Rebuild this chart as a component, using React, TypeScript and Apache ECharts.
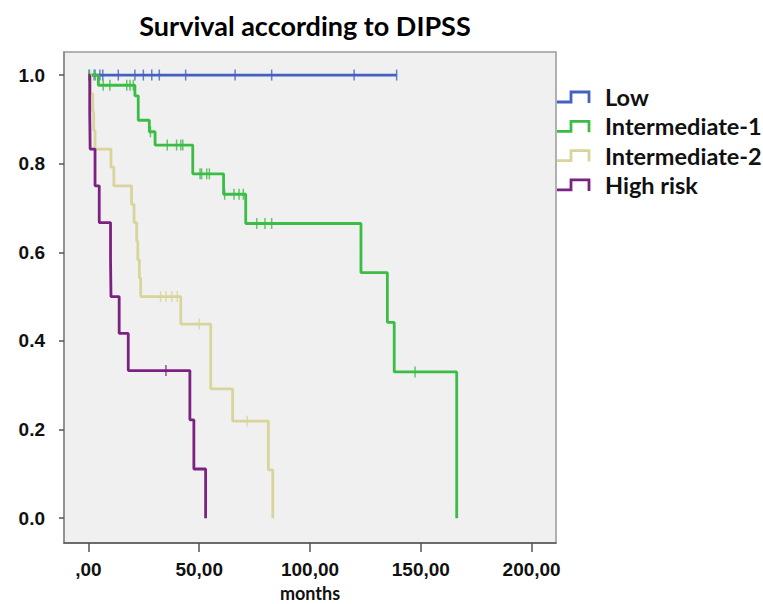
import React, { useEffect, useRef } from "react";
import * as echarts from "echarts";

// ---- Data (months, survival probability) ----
const groupNames = ["Low", "Intermediate-1", "Intermediate-2", "High risk"];
const groupColors = ["#4260c0", "#3bbd45", "#d9d49a", "#7c2182"];

const lowTimes = [0, 139.1];
const lowSurv = [1, 1];
const lowCensor = [0.3, 3.0, 5.2, 6.5, 13.5, 21.0, 24.8, 28.6, 32.0, 43.9, 66.2, 82.7, 119.9, 139.1];

const int1Times = [0, 4.5, 21.0, 22.5, 27.5, 30.1, 47.1, 61.0, 71.0, 123.0, 134.9, 138.0, 166.2];
const int1Surv = [1, 0.977, 0.953, 0.898, 0.872, 0.842, 0.777, 0.731, 0.665, 0.554, 0.442, 0.33, 0];
const int1Censor = [0.5, 2.5, 6.7, 9.7, 17.3, 18.8, 20.3, 28.0, 35.6, 39.8, 41.7, 42.6, 50.4, 51.1, 53.4, 54.6, 61.5, 65.7, 68.0, 69.9, 76.0, 79.7, 82.7, 147.4];

const int2Times = [0, 1.0, 2.0, 2.4, 3.0, 10.2, 11.5, 19.5, 20.6, 21.8, 22.3, 23.0, 23.6, 41.7, 55.2, 65.1, 81.2, 83.2];
const int2Surv = [1, 0.958, 0.917, 0.875, 0.833, 0.792, 0.75, 0.708, 0.667, 0.625, 0.583, 0.542, 0.5, 0.438, 0.292, 0.219, 0.109, 0];
const int2Censor = [32.6, 35.0, 37.6, 40.1, 50.0, 71.7];

const highTimes = [0, 0.6, 0.8, 3.0, 4.9, 10.0, 10.2, 13.9, 18.0, 45.8, 47.6, 52.9];
const highSurv = [1, 0.917, 0.833, 0.75, 0.667, 0.583, 0.5, 0.417, 0.333, 0.222, 0.111, 0];
const highCensor = [35.0];

const xTickValues = [0, 50, 100, 150, 200];
const yTickValues = [0, 0.2, 0.4, 0.6, 0.8, 1.0];

const groups = [
  { times: lowTimes, surv: lowSurv, censor: lowCensor },
  { times: int1Times, surv: int1Surv, censor: int1Censor },
  { times: int2Times, surv: int2Surv, censor: int2Censor },
  { times: highTimes, surv: highSurv, censor: highCensor },
];

function survAt(times: number[], surv: number[], t: number): number {
  let s = surv[0];
  for (let i = 0; i < times.length; i++) {
    if (times[i] <= t) s = surv[i];
  }
  return s;
}

function fmtX(v: number): string {
  if (v === 0) return ",00";
  return v.toFixed(2).replace(".", ",");
}

export default function App() {
  const ref = useRef<HTMLDivElement>(null);
  useEffect(() => {
    document.body.style.margin = "0";
    if (!ref.current) return;
    const chart = echarts.init(ref.current, null, { renderer: "svg" });

    const series: any[] = [];
    groups.forEach((g, i) => {
      series.push({
        name: groupNames[i],
        type: "line",
        step: "end",
        showSymbol: false,
        symbol: "none",
        data: g.times.map((t, k) => [t, g.surv[k]]),
        lineStyle: { color: groupColors[i], width: 2.8 },
        itemStyle: { color: groupColors[i] },
        z: 2 + i,
      });
      series.push({
        name: groupNames[i] + " censored",
        type: "scatter",
        symbol: "rect",
        symbolSize: [1.5, 11],
        data: g.censor.map((t) => [t, survAt(g.times, g.surv, t)]),
        itemStyle: { color: groupColors[i] },
        z: 2 + i,
      });
    });

    const legendGraphics: any[] = [];
    const legendTop = 97;
    const legendStep = 29.3;
    groupNames.forEach((n, i) => {
      const cy = legendTop + i * legendStep;
      legendGraphics.push({
        type: "polyline",
        shape: {
          points: [
            [557, cy + 5],
            [571, cy + 5],
            [571, cy - 5],
            [589, cy - 5],
            [589, cy + 6],
          ],
        },
        style: { stroke: groupColors[i], lineWidth: 2.8, fill: null },
      });
      legendGraphics.push({
        type: "text",
        x: 605,
        y: cy,
        style: {
          text: n,
          fill: "#111",
          font: "bold 23.5px Lato",
          verticalAlign: "middle",
        },
      });
    });

    chart.setOption({
      animation: false,
      backgroundColor: "#ffffff",
      title: {
        text: "Survival according to DIPSS",
        left: 300,
        top: 7,
        textAlign: "center",
        textStyle: { fontFamily: "Lato", fontWeight: "bold", fontSize: 27, color: "#000" },
      },
      grid: {
        left: 64,
        right: 207,
        top: 52,
        bottom: 61,
        show: true,
        containLabel: false,
        outerBoundsMode: "none",
        backgroundColor: "#f0f0f0",
        borderColor: "#999999",
        borderWidth: 1.5,
      },
      xAxis: {
        type: "value",
        min: -11,
        max: 211,
        name: "months",
        nameLocation: "middle",
        nameGap: 37,
        nameTextStyle: {
          fontFamily: "Lato",
          fontWeight: "bold",
          fontSize: 18,
          lineHeight: 18,
          color: "#111",
          verticalAlign: "top",
        },
        axisLine: { show: true, onZero: false, lineStyle: { color: "#555", width: 1.5 } },
        axisTick: { show: true, length: 9, customValues: xTickValues, lineStyle: { color: "#555", width: 1.5 } },
        axisLabel: {
          customValues: xTickValues,
          formatter: (v: number) => fmtX(v),
          margin: 17,
          fontFamily: "Liberation Sans",
          fontWeight: "bold",
          fontSize: 19,
          color: "#111",
        },
        splitLine: { show: false },
      },
      yAxis: {
        type: "value",
        min: -0.056,
        max: 1.052,
        axisLine: { show: true, onZero: false, lineStyle: { color: "#888", width: 1.5 } },
        axisTick: { show: true, length: 5, customValues: yTickValues, lineStyle: { color: "#555", width: 1.5 } },
        axisLabel: {
          customValues: yTickValues,
          formatter: (v: number) => v.toFixed(1),
          margin: 19,
          fontFamily: "Liberation Sans",
          fontWeight: "bold",
          fontSize: 19,
          color: "#111",
        },
        splitLine: { show: false },
      },
      graphic: legendGraphics,
      series,
    });

    return () => chart.dispose();
  }, []);
  return <div ref={ref} style={{ width: 763, height: 604 }} />;
}
